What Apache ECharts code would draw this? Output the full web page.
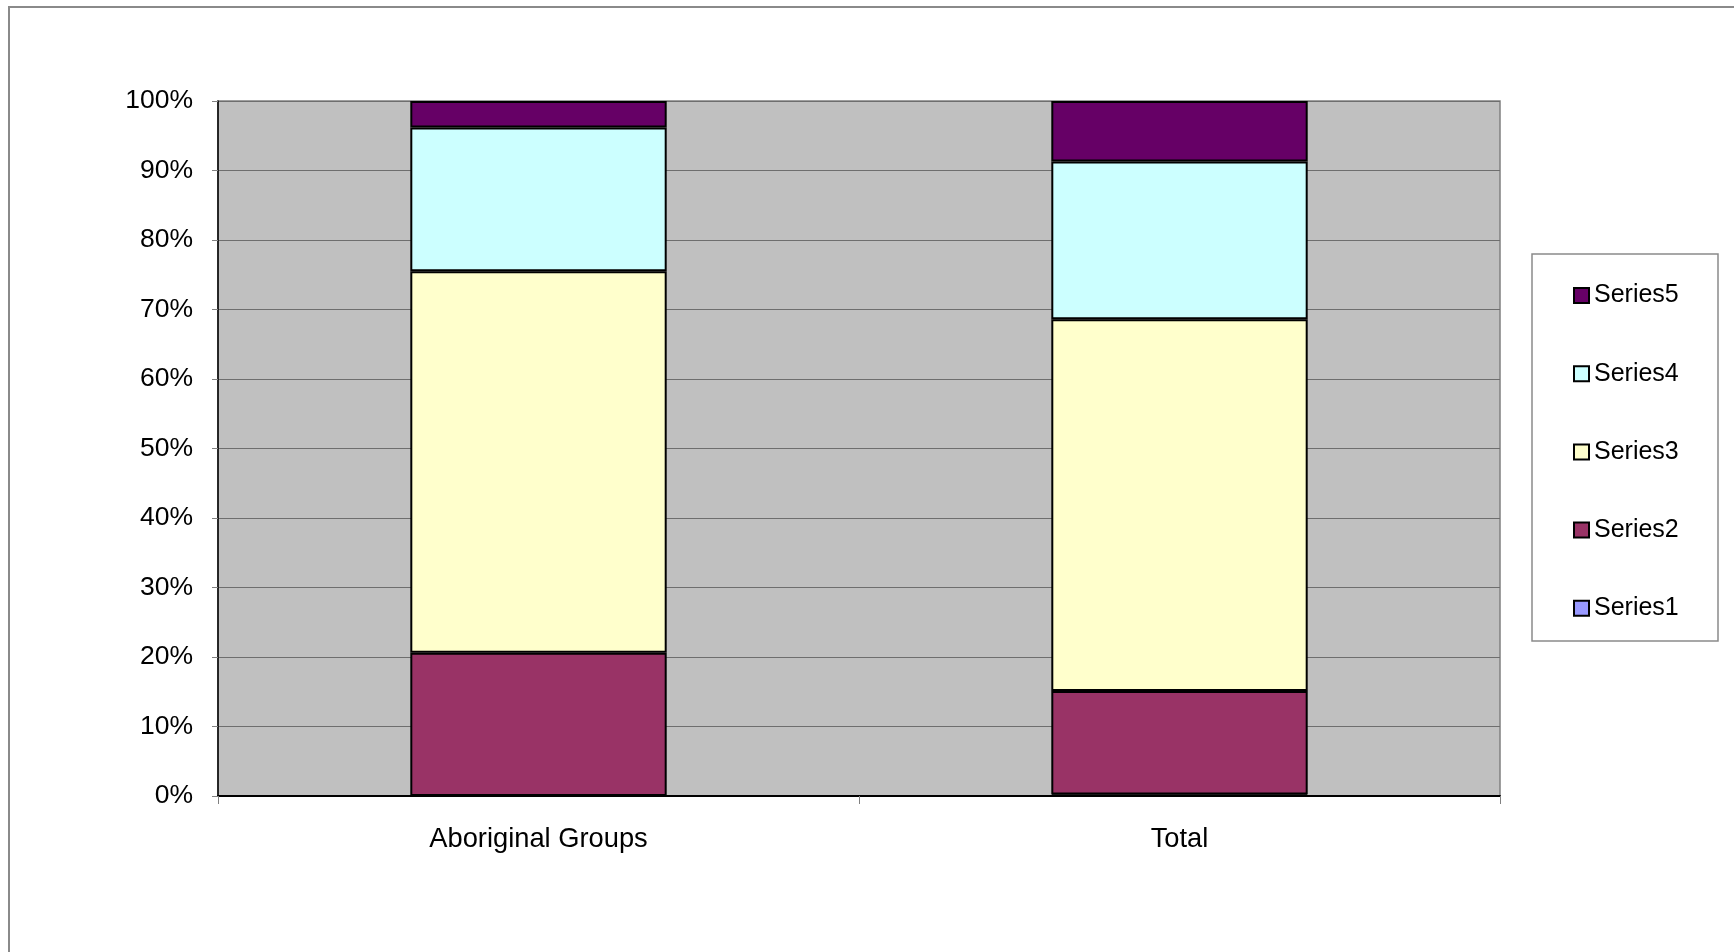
<!DOCTYPE html>
<html>
<head>
<meta charset="utf-8">
<script src="https://cdn.jsdelivr.net/npm/echarts@6/dist/echarts.min.js"></script>
<style>
html,body{margin:0;padding:0;background:#fff;}
#chart{width:1734px;height:952px;}
</style>
</head>
<body>
<div id="chart"></div>
<script>
const categories = ['Aboriginal Groups', 'Total'];
const series1 = [0, 0.2];
const series2 = [20.6, 14.9];
const series3 = [54.9, 53.5];
const series4 = [20.7, 22.7];
const series5 = [3.8, 8.7];
const yTicks = [0, 10, 20, 30, 40, 50, 60, 70, 80, 90, 100];
const seriesNames = ['Series1', 'Series2', 'Series3', 'Series4', 'Series5'];
const seriesColors = ['#9999FF', '#993366', '#FFFFCC', '#CCFFFF', '#660066'];

const allValues = [series1, series2, series3, series4, series5];
const FONT = '"Liberation Sans", Arial, sans-serif';

const chart = echarts.init(document.getElementById('chart'), null, {renderer: 'canvas'});
chart.setOption({
  animation: false,
  backgroundColor: '#ffffff',
  textStyle: {fontFamily: FONT},
  graphic: [
    {type: 'rect', shape: {x: 9, y: 7, width: 1760, height: 980}, style: {fill: 'none', stroke: '#8a8a8a', lineWidth: 2}, z: -1},
    {type: 'rect', shape: {x: 1532, y: 254, width: 186, height: 387}, style: {fill: '#ffffff', stroke: '#8a8a8a', lineWidth: 1.5}, z: 0}
  ],
  grid: {
    left: 218, top: 101, width: 1282, height: 695,
    show: true, backgroundColor: '#C0C0C0', borderColor: '#808080', borderWidth: 1.5
  },
  legend: {
    orient: 'vertical',
    left: 1568, top: 278,
    data: seriesNames.slice().reverse(),
    icon: 'rect',
    itemWidth: 15, itemHeight: 15,
    itemGap: 53.2,
    textStyle: {fontSize: 25, fontFamily: FONT, color: '#000', lineHeight: 24, padding: [0, 0, 0, 0]},
    itemStyle: {borderColor: '#000', borderWidth: 2},
    z: 5
  },
  xAxis: {
    type: 'category',
    data: categories,
    axisLine: {show: true, lineStyle: {color: '#000', width: 2}},
    axisTick: {show: true, length: 8, lineStyle: {color: '#808080', width: 1}},
    axisLabel: {fontSize: 27.3, color: '#000', margin: 30, fontFamily: FONT},
    splitLine: {show: false}
  },
  yAxis: {
    type: 'value',
    min: yTicks[0], max: yTicks[yTicks.length - 1], interval: 10,
    axisLine: {show: true, lineStyle: {color: '#000', width: 1.5}},
    axisTick: {show: true, length: 6, lineStyle: {color: '#808080'}},
    axisLabel: {fontSize: 26.5, color: '#000', margin: 25, formatter: '{value}%', fontFamily: FONT, padding: [6, 0, 0, 0]},
    splitLine: {show: true, lineStyle: {color: '#6e6e6e', width: 1}}
  },
  series: seriesNames.map((name, i) => ({
    name: name,
    type: 'bar',
    stack: 'total',
    barWidth: '40%',
    data: allValues[i],
    itemStyle: {color: seriesColors[i], borderColor: '#000', borderWidth: 2}
  }))
});
</script>
</body>
</html>
